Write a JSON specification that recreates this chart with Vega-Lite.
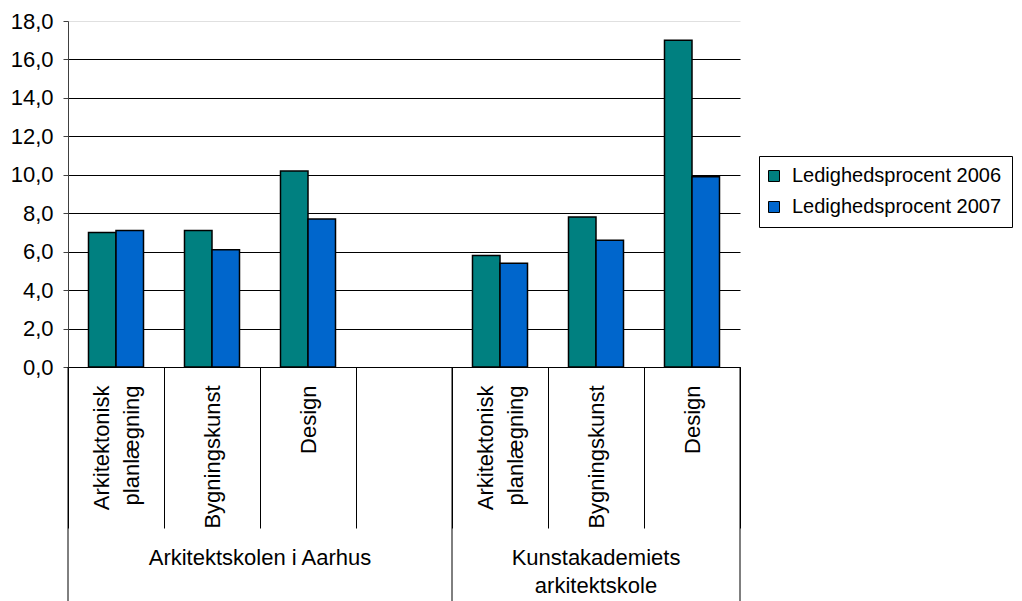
{
  "$schema": "https://vega.github.io/schema/vega-lite/v6.json",
  "width": 672,
  "height": 346,
  "autosize": "none",
  "padding": {"left": 68, "top": 21, "right": 282, "bottom": 234},
  "background": "white",
  "config": {"font": "Liberation Sans", "view": {"stroke": null}},
  "datasets": {
    "bars": [
      {"cat": "a1", "year": "Ledighedsprocent 2006", "value": 7.0},
      {"cat": "a1", "year": "Ledighedsprocent 2007", "value": 7.1},
      {"cat": "a2", "year": "Ledighedsprocent 2006", "value": 7.1},
      {"cat": "a2", "year": "Ledighedsprocent 2007", "value": 6.1},
      {"cat": "a3", "year": "Ledighedsprocent 2006", "value": 10.2},
      {"cat": "a3", "year": "Ledighedsprocent 2007", "value": 7.7},
      {"cat": "k1", "year": "Ledighedsprocent 2006", "value": 5.8},
      {"cat": "k1", "year": "Ledighedsprocent 2007", "value": 5.4},
      {"cat": "k2", "year": "Ledighedsprocent 2006", "value": 7.8},
      {"cat": "k2", "year": "Ledighedsprocent 2007", "value": 6.6},
      {"cat": "k3", "year": "Ledighedsprocent 2006", "value": 17.0},
      {"cat": "k3", "year": "Ledighedsprocent 2007", "value": 9.9}
    ]
  },
  "layer": [
    {
      "data": {"name": "bars"},
      "mark": {"type": "bar", "stroke": "#000", "strokeWidth": 1.5},
      "encoding": {
        "x": {
          "field": "cat",
          "type": "nominal",
          "scale": {"domain": ["a1", "a2", "a3", "a4", "k1", "k2", "k3"], "paddingInner": 0, "paddingOuter": 0},
          "axis": {
            "title": null,
            "labelAngle": -90,
            "labelAlign": "right",
            "labelBaseline": "middle",
            "labelExpr": "(datum.value == 'a1' || datum.value == 'k1') ? ['Arkitektonisk', 'planlægning'] : (datum.value == 'a2' || datum.value == 'k2') ? 'Bygningskunst' : (datum.value == 'a3' || datum.value == 'k3') ? 'Design' : ''",
            "labelFontSize": 22,
            "labelLineHeight": 30,
            "labelColor": "#000",
            "labelOverlap": false,
            "labelLimit": 0,
            "labelPadding": -143,
            "labelOffset": {"condition": {"test": "datum.value == 'a1' || datum.value == 'k1'", "value": -15}, "value": 0},
            "tickBand": "extent",
            "tickSize": 161,
            "tickColor": "#000",
            "domainColor": "#000"
          }
        },
        "xOffset": {"field": "year", "type": "nominal", "scale": {"paddingInner": 0, "paddingOuter": 0.745}},
        "y": {
          "field": "value",
          "type": "quantitative",
          "scale": {"domain": [0, 18], "nice": false},
          "axis": {
            "title": null,
            "values": [0, 2, 4, 6, 8, 10, 12, 14, 16, 18],
            "labelExpr": "replace(format(datum.value, '.1f'), '.', ',')",
            "labelFontSize": 22,
            "labelColor": "#000",
            "labelOverlap": false,
            "labelFlush": false,
            "labelPadding": 10,
            "tickSize": 5,
            "tickColor": "#404040",
            "domainColor": "#404040",
            "gridColor": {"condition": {"test": "datum.value == 18", "value": "#e0e0e0"}, "value": "#000"},
            "gridOpacity": 1
          }
        },
        "color": {
          "field": "year",
          "type": "nominal",
          "scale": {"domain": ["Ledighedsprocent 2006", "Ledighedsprocent 2007"], "range": ["#008080", "#0066CC"]},
          "legend": {
            "title": null,
            "orient": "none",
            "legendX": 691,
            "legendY": 135,
            "direction": "vertical",
            "strokeColor": "#000",
            "fillColor": "#fff",
            "padding": 10,
            "labelFontSize": 20,
            "labelColor": "#000",
            "labelLimit": 0,
            "labelOffset": 8,
            "symbolOffset": -5,
            "symbolType": "square",
            "symbolSize": 121,
            "symbolStrokeColor": "#000",
            "symbolStrokeWidth": 1,
            "symbolOpacity": 1,
            "rowPadding": 11
          }
        }
      }
    },
    {
      "data": {"values": [{"cat": "a1"}, {"cat": "k1"}]},
      "mark": {"type": "rule", "color": "#000", "strokeWidth": 1},
      "encoding": {
        "x": {"field": "cat", "type": "nominal", "bandPosition": 0},
        "y": {
          "datum": 0,
          "type": "quantitative",
          "axis": {
            "title": null,
            "values": [0, 2, 4, 6, 8, 10, 12, 14, 16, 18],
            "labelExpr": "replace(format(datum.value, '.1f'), '.', ',')",
            "labelFontSize": 22,
            "labelColor": "#000",
            "labelOverlap": false,
            "labelFlush": false,
            "labelPadding": 10,
            "tickSize": 5,
            "tickColor": "#404040",
            "domainColor": "#404040",
            "gridColor": {"condition": {"test": "datum.value == 18", "value": "#e0e0e0"}, "value": "#000"},
            "gridOpacity": 1
          }
        },
        "y2": {"datum": -12.2}
      }
    },
    {
      "data": {"values": [{"cat": "k3"}]},
      "mark": {"type": "rule", "color": "#000", "strokeWidth": 1},
      "encoding": {
        "x": {"field": "cat", "type": "nominal", "bandPosition": 1},
        "y": {
          "datum": 0,
          "type": "quantitative",
          "axis": {
            "title": null,
            "values": [0, 2, 4, 6, 8, 10, 12, 14, 16, 18],
            "labelExpr": "replace(format(datum.value, '.1f'), '.', ',')",
            "labelFontSize": 22,
            "labelColor": "#000",
            "labelOverlap": false,
            "labelFlush": false,
            "labelPadding": 10,
            "tickSize": 5,
            "tickColor": "#404040",
            "domainColor": "#404040",
            "gridColor": {"condition": {"test": "datum.value == 18", "value": "#e0e0e0"}, "value": "#000"},
            "gridOpacity": 1
          }
        },
        "y2": {"datum": -12.2}
      }
    },
    {
      "data": {"values": [{"cat": "a2", "label": "Arkitektskolen i Aarhus"}]},
      "mark": {"type": "text", "fontSize": 22, "color": "#000", "baseline": "top", "align": "center", "dy": 181},
      "encoding": {
        "x": {"field": "cat", "type": "nominal", "bandPosition": 1},
        "y": {
          "datum": 0,
          "type": "quantitative",
          "axis": {
            "title": null,
            "values": [0, 2, 4, 6, 8, 10, 12, 14, 16, 18],
            "labelExpr": "replace(format(datum.value, '.1f'), '.', ',')",
            "labelFontSize": 22,
            "labelColor": "#000",
            "labelOverlap": false,
            "labelFlush": false,
            "labelPadding": 10,
            "tickSize": 5,
            "tickColor": "#404040",
            "domainColor": "#404040",
            "gridColor": {"condition": {"test": "datum.value == 18", "value": "#e0e0e0"}, "value": "#000"},
            "gridOpacity": 1
          }
        },
        "text": {"field": "label"}
      }
    },
    {
      "data": {"values": [{"cat": "k2", "label": ["Kunstakademiets", "arkitektskole"]}]},
      "mark": {"type": "text", "fontSize": 22, "color": "#000", "baseline": "top", "align": "center", "dy": 181, "lineHeight": 28},
      "encoding": {
        "x": {"field": "cat", "type": "nominal", "bandPosition": 0.5},
        "y": {
          "datum": 0,
          "type": "quantitative",
          "axis": {
            "title": null,
            "values": [0, 2, 4, 6, 8, 10, 12, 14, 16, 18],
            "labelExpr": "replace(format(datum.value, '.1f'), '.', ',')",
            "labelFontSize": 22,
            "labelColor": "#000",
            "labelOverlap": false,
            "labelFlush": false,
            "labelPadding": 10,
            "tickSize": 5,
            "tickColor": "#404040",
            "domainColor": "#404040",
            "gridColor": {"condition": {"test": "datum.value == 18", "value": "#e0e0e0"}, "value": "#000"},
            "gridOpacity": 1
          }
        },
        "text": {"field": "label"}
      }
    }
  ]
}
